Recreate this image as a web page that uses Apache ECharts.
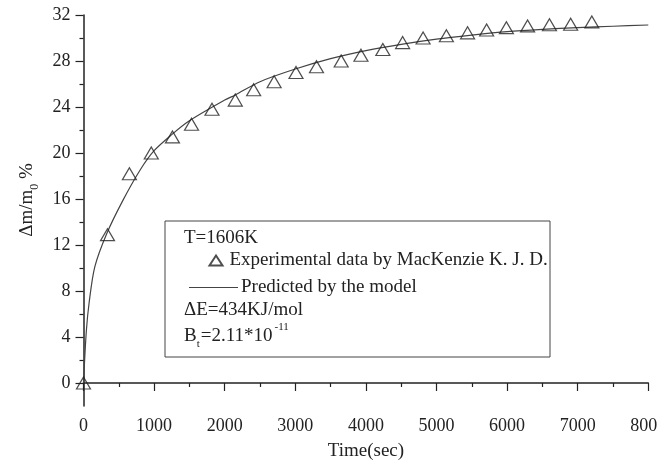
<!DOCTYPE html>
<html>
<head>
<meta charset="utf-8">
<script src="https://cdn.jsdelivr.net/npm/echarts@6/dist/echarts.min.js"></script>
<style>html,body{margin:0;padding:0;background:#fff}#c{width:670px;height:466px}</style>
</head>
<body>
<div id="c"></div>
<script>
// Experimental data (MacKenzie K. J. D.)
var expTime = [0, 340, 650, 960, 1260, 1530, 1820, 2150, 2410, 2700, 3010, 3300, 3650, 3930, 4240, 4520, 4810, 5140, 5440, 5710, 5990, 6290, 6600, 6900, 7200];
var expMass = [0, 12.9, 18.2, 20.0, 21.4, 22.5, 23.8, 24.6, 25.5, 26.2, 27.0, 27.5, 28.0, 28.5, 29.0, 29.6, 30.0, 30.2, 30.45, 30.7, 30.9, 31.05, 31.15, 31.2, 31.4];
// Model prediction
var modelTime = [0, 40, 80, 160, 330, 560, 800, 1000, 1250, 1500, 2000, 2150, 2500, 3000, 3500, 4000, 4500, 5000, 5500, 6000, 6500, 7000, 7500, 8000];
var modelMass = [0, 4.5, 7.0, 10.1, 13.0, 15.9, 18.5, 20.2, 21.6, 22.8, 24.6, 25.05, 26.2, 27.3, 28.2, 28.9, 29.45, 29.9, 30.25, 30.55, 30.75, 30.9, 31.02, 31.13];
// Tick labels
var yMajor = [0, 4, 8, 12, 16, 20, 24, 28, 32];
var yMinor = [2, 6, 10, 14, 18, 22, 26, 30];
var expName = 'Experimental data by MacKenzie K. J. D.';
var modelName = 'Predicted by the model';

var FONT = '"Liberation Serif", "Times New Roman", serif';
var INK = '#222';
var LFS = 19;

function pairs(xs, ys) { return xs.map(function (x, i) { return [x, ys[i]]; }); }

var chart = echarts.init(document.getElementById('c'), null, { renderer: 'canvas' });
chart.setOption({
  animation: false,
  backgroundColor: '#fff',
  textStyle: { fontFamily: FONT, color: INK },
  grid: { left: 83.5, right: 21.7, top: 15, bottom: 59.3, containLabel: false },
  xAxis: {
    type: 'value', min: 0, max: 8000, interval: 1000,
    name: 'Time(sec)', nameLocation: 'middle', nameGap: 36,
    nameTextStyle: { fontFamily: FONT, fontSize: 19, color: INK },
    axisLine: { show: true, lineStyle: { color: INK, width: 1.5 } },
    axisTick: { show: true, inside: false, length: 8, lineStyle: { color: INK, width: 1.2 } },
    minorTick: { show: true, splitNumber: 2, length: 4, lineStyle: { color: INK, width: 1.2 } },
    splitLine: { show: false },
    axisLabel: {
      fontFamily: FONT, fontSize: 18, color: INK, margin: 11,
      formatter: function (v) { return v === 8000 ? '{e|800}' : String(v); },
      rich: { e: { fontFamily: FONT, fontSize: 18, color: INK, padding: [0, 9, 0, 0] } }
    }
  },
  yAxis: [{
    type: 'value', min: -2, max: 32,
    axisLine: { show: true, onZero: false, lineStyle: { color: INK, width: 1.5 } },
    axisTick: { show: true, length: 8, customValues: yMajor, lineStyle: { color: INK, width: 1.2 } },
    axisLabel: { fontFamily: FONT, fontSize: 18, color: INK, margin: 13, customValues: yMajor },
    splitLine: { show: false }
  }, {
    type: 'value', min: -2, max: 32, position: 'left',
    axisLine: { show: false },
    axisTick: { show: true, length: 4, customValues: yMinor, lineStyle: { color: INK, width: 1.2 } },
    axisLabel: { show: false },
    splitLine: { show: false }
  }],
  legend: [{
    data: [{ name: expName, icon: 'triangle' }],
    left: 203.5, top: 246, orient: 'vertical', itemWidth: 13, itemHeight: 10, itemGap: 0,
    textStyle: { fontFamily: FONT, fontSize: LFS, color: INK, padding: [0, 0, 0, 2] },
    selectedMode: false
  }, {
    data: [{ name: modelName, icon: 'path://M0,0 L0.01,0 L0.01,0.01 Z M0,4.4 L49,4.4 L49,5.6 L0,5.6 Z M48.99,9.99 L49,9.99 L49,10 Z', itemStyle: { color: '#444', borderWidth: 0 } }],
    left: 184, top: 273, orient: 'vertical', itemWidth: 49, itemHeight: 10, itemGap: 0,
    textStyle: { fontFamily: FONT, fontSize: LFS, color: INK, padding: [0, 0, 0, -2] },
    selectedMode: false
  }],
  graphic: [
    { type: 'rect', shape: { x: 165, y: 221, width: 385, height: 136 }, style: { fill: 'transparent', stroke: '#444', lineWidth: 1 }, z: 1 },
    { type: 'text', x: 184, y: 238, style: { text: 'T=1606K', font: LFS + 'px ' + FONT, fill: INK, textVerticalAlign: 'middle' } },
    { type: 'text', x: 184, y: 310, style: { text: '\u0394E=434KJ/mol', font: LFS + 'px ' + FONT, fill: INK, textVerticalAlign: 'middle' } },
    { type: 'text', x: 184, y: 336, style: {
        text: '{n|B}{s|t}{n|=2.11*10}{p|-11}', textVerticalAlign: 'middle',
        rich: {
          n: { fontFamily: FONT, fontSize: LFS, fill: INK, color: INK, lineHeight: 28, verticalAlign: 'middle' },
          s: { fontFamily: FONT, fontSize: 11, fill: INK, color: INK, lineHeight: 28, verticalAlign: 'bottom', padding: [0, 1, 0, 0] },
          p: { fontFamily: FONT, fontSize: 11, fill: INK, color: INK, lineHeight: 26, verticalAlign: 'top', padding: [0, 0, 0, 2] }
        } } },
    { type: 'text', x: 27, y: 200, rotation: Math.PI / 2, style: {
        text: '{n|\u0394m/m}{s|0}{n| %}', textAlign: 'center', textVerticalAlign: 'middle',
        rich: {
          n: { fontFamily: FONT, fontSize: 19, fill: INK, color: INK, lineHeight: 28, verticalAlign: 'middle' },
          s: { fontFamily: FONT, fontSize: 12, fill: INK, color: INK, lineHeight: 28, verticalAlign: 'bottom' }
        } } }
  ],
  series: [{
    name: modelName, type: 'line', yAxisIndex: 0,
    data: pairs(modelTime, modelMass),
    smooth: 0.3, symbol: 'none', showSymbol: false,
    lineStyle: { color: '#444', width: 1.2 }, itemStyle: { color: '#444' }, z: 2
  }, {
    name: expName, type: 'scatter', yAxisIndex: 0,
    data: pairs(expTime, expMass),
    symbol: 'triangle', symbolSize: [14, 12],
    itemStyle: { color: 'rgba(255,255,255,0)', borderColor: INK, borderWidth: 1.2 }, z: 3
  }]
});
</script>
</body>
</html>
